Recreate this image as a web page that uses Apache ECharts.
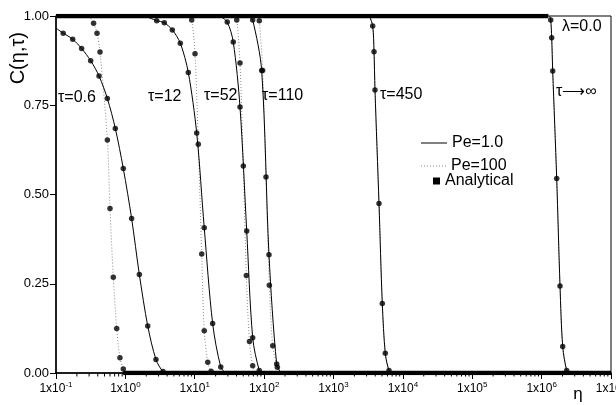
<!DOCTYPE html>
<html>
<head>
<meta charset="utf-8">
<script src="https://cdn.jsdelivr.net/npm/echarts@6/dist/echarts.min.js"></script>
<style>
  html, body { margin: 0; padding: 0; background: #fff; }
  #chart { width: 616px; height: 405px; }
</style>
</head>
<body>
<div id="chart"></div>
<script>
// Concentration profiles C(eta, tau); eta on a log axis.
// Each curve array: first and last entries are where the line joins the
// C=1 / C=0 plateaus, the entries in between carry the analytical dots.
const pe1_06   = [[0.1,0.966],[0.127,0.952],[0.174,0.935],[0.234,0.909],[0.316,0.875],[0.417,0.832],[0.55,0.769],[0.716,0.685],[0.933,0.573],[1.23,0.433],[1.59,0.276],[2.10,0.132],[2.76,0.038],[3.49,0.004],[4.2,0]];
const pe100_06 = [[0.30,1],[0.348,0.980],[0.390,0.952],[0.431,0.899],[0.550,0.653],[0.600,0.461],[0.670,0.268],[0.750,0.125],[0.835,0.043],[0.933,0.011],[1.0,0]];
const pe1_12   = [[1.9,1],[2.83,0.987],[3.64,0.981],[4.75,0.961],[6.19,0.924],[8.07,0.842],[10.67,0.672],[13.7,0.407],[18.1,0.139],[23.7,0.017],[28,0]];
const pe100_12 = [[8.3,1],[9.04,0.989],[10.09,0.894],[11.25,0.641],[12.6,0.333],[13.7,0.118],[15.4,0.030],[17.2,0.005],[19,0]];
const pe1_52   = [[23,1],[29.4,0.983],[35.9,0.927],[44.9,0.745],[56.1,0.398],[68.4,0.099],[85.1,0.007],[95,0]];
const pe100_52 = [[37,1],[40.3,0.989],[44.9,0.868],[50.1,0.580],[55.4,0.273],[61.5,0.088],[68.4,0.020],[75,0]];
const pe1_110  = [[60,1],[68.4,0.989],[92.2,0.847],[117.5,0.331],[151.7,0.025],[175,0]];
const pe100_110= [[80,1],[85.1,0.987],[95.2,0.847],[106.4,0.549],[118.9,0.246],[133.1,0.076],[155,0.016],[165,0]];
const pe1_450  = [[3300,1],[3673,0.972],[3837,0.900],[3963,0.793],[4527,0.475],[5050,0.195],[5581,0.055],[6310,0.007],[7000,0]];
const pe1_inf  = [[1.3e6,1],[1.352e6,0.989],[1.397e6,0.939],[1.445e6,0.846],[1.649e6,0.545],[1.841e6,0.244],[2.013e6,0.074],[2.298e6,0.007],[2.5e6,0]];

// Plateaus where the analytical points pile up into solid bands
const topBand    = [[0.1,1],[1.25e6,1]];
const bottomBand = [[0.93,0],[1e7,0]];

// Curve labels
const curveLabels = ['τ=0.6','τ=12','τ=52','τ=110','τ=450','τ⟶∞'];

const FONT = 'Liberation Sans, Arial, sans-serif';
const DOTTED_GREY = '#8a8a8a';

const pe1Curves   = [pe1_06, pe1_12, pe1_52, pe1_110, pe1_450, pe1_inf];
const pe100Curves = [pe100_06, pe100_12, pe100_52, pe100_110, pe1_450, pe1_inf];

// minor ticks of the log axis: 2..9 within each decade
const minorTicks = [];
for (let e = -1; e < 7; e++) {
  for (let k = 2; k <= 9; k++) minorTicks.push([k * Math.pow(10, e), 0]);
}

const series = [];
series.push({ type: 'line', name: 'Analytical', data: topBand, symbol: 'none',
  itemStyle: { color: '#000' }, lineStyle: { color: '#000', width: 4.5 }, z: 3, silent: true });
series.push({ type: 'line', name: 'Analytical', data: bottomBand, symbol: 'none',
  itemStyle: { color: '#000' }, lineStyle: { color: '#000', width: 4.5 }, z: 3, silent: true });

pe100Curves.forEach(c => series.push({
  type: 'line', name: 'Pe=100', data: c, symbol: 'none', smooth: 0.3,
  itemStyle: { color: DOTTED_GREY },
  lineStyle: { color: DOTTED_GREY, width: 1, type: [1, 2] }, z: 2
}));
pe1Curves.forEach(c => series.push({
  type: 'line', name: 'Pe=1.0', data: c, symbol: 'none', smooth: 0.3,
  itemStyle: { color: '#000' },
  lineStyle: { color: '#000', width: 1 }, z: 2
}));

const dots = [];
pe1Curves.concat(pe100Curves.slice(0, 4)).forEach(c => {
  c.slice(1, -1).forEach(p => dots.push(p));
});
series.push({ type: 'scatter', name: 'Analytical', data: dots, symbol: 'circle',
  symbolSize: 5.5, itemStyle: { color: '#000' }, z: 4 });

series.push({
  type: 'custom', data: minorTicks, silent: true, clip: false, z: 5,
  renderItem: (params, api) => {
    const p = api.coord([api.value(0), 0]);
    return { type: 'line', shape: { x1: p[0], y1: p[1], x2: p[0], y2: p[1] + 3.5 },
      style: { stroke: '#000', lineWidth: 1 } };
  }
});

// legend icons: solid stroke, row of dots, small square
const solidIcon = 'path://M0,0h26v1h-26z';
let dotPath = 'path://';
for (let i = 0; i <= 24; i += 3) dotPath += 'M' + i + ',0h1v1h-1z';

const legendText = { fontFamily: FONT, fontSize: 16, color: '#000' };

const labelPos = [[58, 98], [148, 97], [204, 96], [262, 96], [380, 95], [556, 92]];

const option = {
  animation: false,
  grid: { left: 56, right: 5, top: 16, bottom: 32, show: true, borderColor: '#000', borderWidth: 1,
    outerBoundsMode: 'none', containLabel: false },
  xAxis: {
    type: 'log', logBase: 10, min: 0.1, max: 1e7,
    axisLine: { lineStyle: { color: '#000', width: 1.5 } },
    axisTick: { length: 6, lineStyle: { color: '#000', width: 1 } },
    splitLine: { show: false },
    minorTick: { show: false },
    axisLabel: {
      margin: 8, color: '#000',
      formatter: v => '{b|1x10}{s|' + Math.round(Math.log10(v)) + '}',
      rich: {
        b: { fontFamily: FONT, fontSize: 12, color: '#000' },
        s: { fontFamily: FONT, fontSize: 8, color: '#000', padding: [0, 0, 8, 0] }
      }
    }
  },
  yAxis: {
    type: 'value', min: 0, max: 1, interval: 0.25,
    axisLine: { show: true, lineStyle: { color: '#000', width: 1.5 } },
    axisTick: { show: true, length: 6, lineStyle: { color: '#000', width: 1 } },
    splitLine: { show: false },
    axisLabel: { margin: 7, color: '#000', fontFamily: FONT, fontSize: 13,
      formatter: v => v.toFixed(2) }
  },
  legend: [
    { data: [{ name: 'Pe=1.0', icon: solidIcon }], left: 421, top: 135, padding: 0,
      itemWidth: 26, itemHeight: 1, itemStyle: { color: '#000' }, textStyle: legendText },
    { data: [{ name: 'Pe=100', icon: dotPath }], left: 421, top: 158, padding: 0,
      itemWidth: 25, itemHeight: 1, itemStyle: { color: DOTTED_GREY }, textStyle: legendText },
    { data: [{ name: 'Analytical', icon: 'rect' }], left: 433, top: 173, padding: 0,
      itemWidth: 7, itemHeight: 7, itemStyle: { color: '#000' }, textStyle: legendText }
  ],
  graphic: [
    { type: 'text', left: 8, top: 32, rotation: Math.PI / 2,
      style: { text: 'C(η,τ)', fontFamily: FONT, fontSize: 20, fill: '#000' } },
    { type: 'text', x: 578, y: 394,
      style: { text: 'η', fontFamily: FONT, fontSize: 17, fill: '#000', align: 'center', verticalAlign: 'middle' } },
    { type: 'text', x: 562, y: 27,
      style: { text: 'λ=0.0', fontFamily: FONT, fontSize: 16, fill: '#000', align: 'left', verticalAlign: 'middle' } }
  ].concat(curveLabels.map((t, i) => ({
    type: 'text', x: labelPos[i][0], y: labelPos[i][1], z: 10,
    style: { text: t, fontFamily: FONT, fontSize: 16, fill: '#000', align: 'left', verticalAlign: 'middle' }
  }))),
  series: series
};

const chart = echarts.init(document.getElementById('chart'), null, { renderer: 'canvas' });
chart.setOption(option);
</script>
</body>
</html>
